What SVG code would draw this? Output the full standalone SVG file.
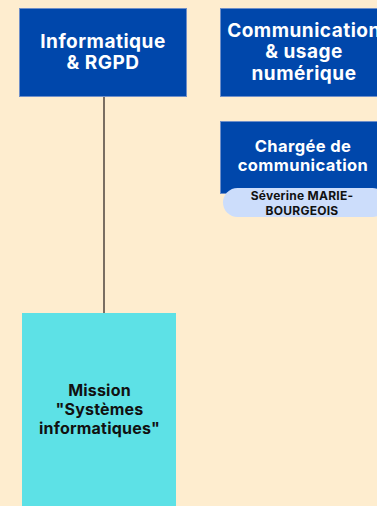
<svg xmlns="http://www.w3.org/2000/svg" width="377" height="506" viewBox="0 0 377 506">
<style>
.bg{fill:#FEEDCF}
.blue{fill:#0047AB;stroke:#6F8FC8;stroke-width:1}
.wt{fill:#FFFFFF;font-family:Inter,Roboto,"Liberation Sans",sans-serif;font-weight:bold;font-size:19px;letter-spacing:0.5px;text-anchor:middle}
.ws{fill:#FFFFFF;font-family:Inter,Roboto,"Liberation Sans",sans-serif;font-weight:bold;font-size:16.5px;letter-spacing:0.4px;text-anchor:middle}
.bt{fill:#111111;font-family:Inter,Roboto,"Liberation Sans",sans-serif;font-weight:bold;font-size:16px;letter-spacing:0.2px;text-anchor:middle}
.pt{fill:#111111;font-family:Inter,Roboto,"Liberation Sans",sans-serif;font-weight:bold;font-size:12px;letter-spacing:0.25px;text-anchor:middle}
.conn{stroke:#7A6E62;stroke-width:2;fill:none}
</style>
<rect class="bg" x="0" y="0" width="377" height="506"/>
<g id="connectors">
<line class="conn" x1="104" y1="97" x2="104" y2="313"/>
</g>
<g id="informatique">
<rect class="blue" x="19.5" y="8.5" width="167" height="88"/>
<text class="wt" x="103" y="48">Informatique</text>
<text class="wt" x="103" y="69">&amp; RGPD</text>
</g>
<g id="communication">
<rect class="blue" x="220.5" y="8.5" width="167" height="88"/>
<text class="wt" x="304" y="37">Communication</text>
<text class="wt" x="304" y="58">&amp; usage</text>
<text class="wt" x="304" y="80">numérique</text>
</g>
<g id="chargee">
<rect class="blue" x="220.5" y="121.5" width="167" height="72"/>
<text class="ws" x="303" y="152">Chargée de</text>
<text class="ws" x="303" y="171">communication</text>
<rect x="223" y="188" width="164" height="29" rx="14.5" fill="#CCDDFB"/>
<text class="pt" x="302" y="200">Séverine MARIE-</text>
<text class="pt" x="302" y="214.5">BOURGEOIS</text>
</g>
<g id="mission">
<rect x="22" y="313" width="154" height="200" fill="#5DE1E6"/>
<text class="bt" x="99.5" y="396">Mission</text>
<text class="bt" x="99.5" y="415">"Systèmes</text>
<text class="bt" x="99.5" y="434">informatiques"</text>
</g>
</svg>
